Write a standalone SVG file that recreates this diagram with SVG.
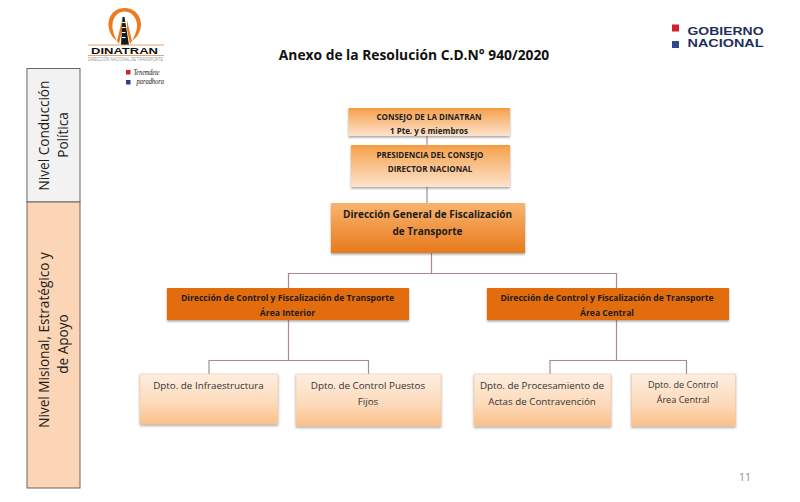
<svg xmlns="http://www.w3.org/2000/svg" width="800" height="502" viewBox="0 0 800 502">
<style>
text{font-family:"Open Sans","Noto Sans","Liberation Sans",sans-serif;text-anchor:middle;fill:#1c1c1c}
.b{font-weight:700}
.c{fill:none;stroke:#a98a8c;stroke-width:1.2}
.s{filter:url(#sh)}
.lv{font-size:13.6px}
.d{font-size:9.8px;fill:#333}
.t{font-size:8px}
.a{font-size:8.6px}
.dg{font-size:10px}
.e{font-size:9.100px;fill:#333}
.gn{font-family:"Liberation Sans",sans-serif;font-weight:700;font-size:11.500px;fill:#1f2f5c;text-anchor:start}
.sc{font-family:"Liberation Serif",serif;font-style:italic;font-size:8.500px;text-anchor:start;fill:#111}
</style>
<defs>
<filter id="sh" x="-5%" y="-10%" width="110%" height="125%"><feDropShadow dx="0" dy="1.5" stdDeviation="1.2" flood-color="#555" flood-opacity=".55"/></filter>
<linearGradient id="g1" x1="0" y1="0" x2="0" y2="1"><stop offset="0" stop-color="#f39a3c"/><stop offset=".12" stop-color="#f7a85a"/><stop offset="1" stop-color="#fde3cc"/></linearGradient>
<linearGradient id="g2" x1="0" y1="0" x2="0" y2="1"><stop offset="0" stop-color="#f9b46e"/><stop offset="1" stop-color="#e8791c"/></linearGradient>
<linearGradient id="g3" x1="0" y1="0" x2="0" y2="1"><stop offset="0" stop-color="#fdeee0"/><stop offset=".6" stop-color="#fdd9b8"/><stop offset="1" stop-color="#fbbf8a"/></linearGradient>
</defs>
<rect width="800" height="502" fill="#fff"/>

<g id="connectors">
<path class="c" d="M427 136V145M427 187V203M431.500 253V273.500M288.500 288V273.500H616.500V288"/>
<path class="c" d="M288.500 320V360.500M209 374V360.500H368.500V374"/>
<path class="c" d="M616.500 320V360.500M550 374V360.500H686.500V374"/>
</g>

<g id="logo-dinatran">
<path d="M117 41C110 36 108.500 29 108.500 24.500C108.500 14 116 8 124.500 8C133 8 141 14 141 24.500C141 30 138 37 132 41C134.500 36 137.500 30 137 24.500C136.500 16 130 11.500 124.500 11.500C119 11.500 113 16 112.500 24.500C112 30 114.500 36 117 41Z" fill="#ee7a1e"/>
<path d="M122 20L117 41L119 44L122 30ZM127 20L132 41L130 44L127 30Z" fill="#ee7a1e"/>
<path d="M122.500 17H124.500L129 45H121Z" fill="#1a1a1a"/>
<path d="M123.800 22V40" stroke="#fff" stroke-width="3.500" stroke-dasharray="1 4" fill="none"/>
<path d="M88 45H164M88 55.500H164" stroke="#eea066" stroke-width="1"/>
<text x="124.500" y="54" textLength="67" lengthAdjust="spacingAndGlyphs" style="font-family:'Liberation Sans',sans-serif;font-size:9.500px;font-weight:700;fill:#111">DINATRAN</text>
<text x="125.500" y="60.500" textLength="75" lengthAdjust="spacingAndGlyphs" style="font-family:'Liberation Sans',sans-serif;font-size:4.500px;fill:#999">DIRECCIÓN NACIONAL DE TRANSPORTE</text>
<rect x="126" y="70" width="4.500" height="4.500" fill="#d5202e"/>
<rect x="126" y="80" width="4.500" height="4.500" fill="#2c3f83"/>
<text x="133.500" y="75" class="sc" textLength="26" lengthAdjust="spacingAndGlyphs">Tenemdete</text>
<text x="136.500" y="84" class="sc" textLength="27.500" lengthAdjust="spacingAndGlyphs">paradhora</text>
</g>

<g id="logo-gobierno">
<rect x="672" y="24.500" width="7" height="7" fill="#d5202e"/>
<rect x="672" y="41" width="7" height="7" fill="#2c4a8c"/>
<text x="687.500" y="34.500" class="gn" textLength="76" lengthAdjust="spacingAndGlyphs">GOBIERNO</text>
<text x="687.500" y="47" class="gn" textLength="76" lengthAdjust="spacingAndGlyphs">NACIONAL</text>
</g>

<text id="title" x="414" y="60" class="b" style="font-size:13.800px;fill:#111">Anexo de la Resolución C.D.N° 940/2020</text>

<g id="level-conduccion">
<rect x="27" y="68.500" width="53" height="133.500" fill="#f2f2f2" stroke="#666"/>
<text class="lv" transform="translate(49,135.500) rotate(-90)">Nivel Conducción</text>
<text class="lv" transform="translate(68,135) rotate(-90)">Política</text>
</g>
<g id="level-misional">
<rect x="27" y="202" width="53" height="286" fill="#fbd5b5" stroke="#666"/>
<text class="lv" transform="translate(49,340) rotate(-90)">Nivel Misional,  Estratégico y</text>
<text class="lv" transform="translate(68,344) rotate(-90)">de Apoyo</text>
</g>

<g id="consejo">
<rect class="s" x="348.500" y="108" width="161.500" height="28" fill="url(#g1)"/>
<text x="429" y="120" class="b t">CONSEJO DE LA DINATRAN</text>
<text x="429" y="134" class="b t">1 Pte. y 6 miembros</text>
</g>
<g id="presidencia">
<rect class="s" x="351" y="145" width="159" height="42" fill="url(#g1)"/>
<text x="430" y="158" class="b t">PRESIDENCIA DEL CONSEJO</text>
<text x="430" y="172" class="b t">DIRECTOR NACIONAL</text>
</g>
<g id="direccion-general">
<rect class="s" x="331" y="203" width="194" height="50" fill="url(#g2)"/>
<text x="427.500" y="218" class="b dg">Dirección General de Fiscalización</text>
<text x="427.500" y="235" class="b dg">de Transporte</text>
</g>
<g id="area-interior">
<rect class="s" x="167" y="288" width="242" height="32" fill="#e36c0a"/>
<text x="287.500" y="301" class="b a">Dirección  de Control y Fiscalización  de Transporte</text>
<text x="287.500" y="316" class="b a">Área  Interior</text>
</g>
<g id="area-central">
<rect class="s" x="487" y="288" width="242" height="32" fill="#e36c0a"/>
<text x="607" y="301" class="b a">Dirección  de Control y Fiscalización  de Transporte</text>
<text x="607" y="316" class="b a">Área  Central</text>
</g>
<g id="infraestructura">
<rect class="s" x="140" y="374" width="138" height="50" fill="url(#g3)" stroke="#f3c9a5" stroke-width=".6"/>
<text x="208.500" y="389" class="d">Dpto. de Infraestructura</text>
</g>
<g id="puestos-fijos">
<rect class="s" x="296" y="374" width="145" height="52" fill="url(#g3)" stroke="#f3c9a5" stroke-width=".6"/>
<text x="368" y="389" class="d">Dpto. de Control Puestos</text>
<text x="368" y="404.500" class="d">Fijos</text>
</g>
<g id="procesamiento">
<rect class="s" x="474" y="374" width="137" height="52" fill="url(#g3)" stroke="#f3c9a5" stroke-width=".6"/>
<text x="542" y="389" class="d">Dpto. de Procesamiento de</text>
<text x="542" y="404.500" class="d">Actas de Contravención</text>
</g>
<g id="control-central">
<rect class="s" x="631.500" y="374" width="104" height="52" fill="url(#g3)" stroke="#f3c9a5" stroke-width=".6"/>
<text x="683" y="388" class="e">Dpto. de Control</text>
<text x="683" y="403" class="e">Área Central</text>
</g>
<text id="page" x="745" y="481" style="font-size:10.500px;fill:#888">11</text>
</svg>
